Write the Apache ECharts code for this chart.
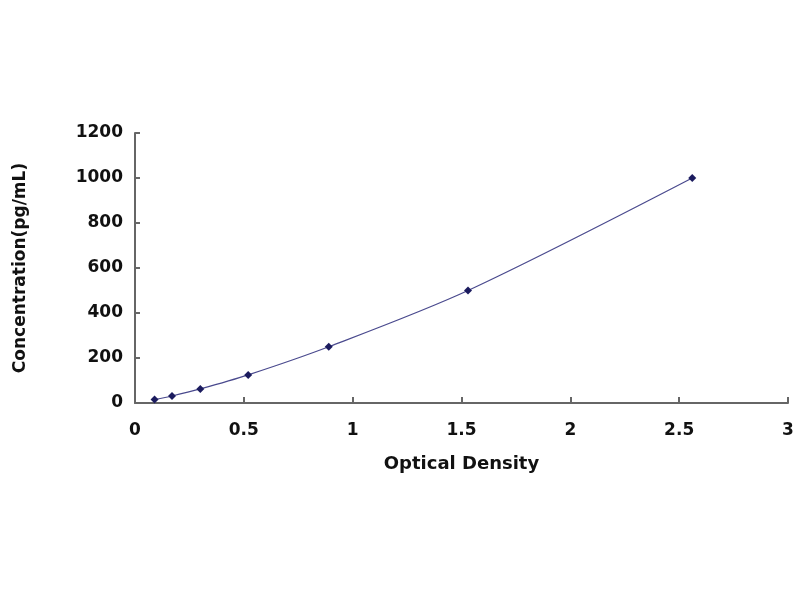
<!DOCTYPE html>
<html>
<head>
<meta charset="utf-8">
<script src="https://cdn.jsdelivr.net/npm/echarts@6/dist/echarts.min.js"></script>
<style>html,body{margin:0;padding:0;background:#fff;}#c{width:800px;height:600px;}</style>
</head>
<body>
<div id="c"></div>
<script>
var opticalDensity = [0.09, 0.17, 0.30, 0.52, 0.89, 1.53, 2.56];
var concentration = [15.6, 31.25, 62.5, 125, 250, 500, 1000];
var xTitle = 'Optical Density';
var yTitle = 'Concentration(pg/mL)';

var pts = opticalDensity.map(function (x, i) { return [x, concentration[i]]; });
var font = 'DejaVu Sans';
var chart = echarts.init(document.getElementById('c'));
chart.setOption({
  animation: false,
  backgroundColor: '#fff',
  grid: { left: 135, right: 12, top: 133, bottom: 197 },
  xAxis: {
    type: 'value', min: 0, max: 3, interval: 0.5,
    name: xTitle, nameLocation: 'middle', nameGap: 52,
    nameTextStyle: { fontFamily: font, fontWeight: 'bold', fontSize: 18, color: '#111' },
    axisLine: { show: true, lineStyle: { color: '#666', width: 2 } },
    axisTick: { show: true, inside: true, length: 6, lineStyle: { color: '#666', width: 2 } },
    axisLabel: { fontFamily: font, fontWeight: 'bold', fontSize: 17, color: '#111', margin: 19,
      formatter: function (v) { return String(v); } },
    splitLine: { show: false }
  },
  yAxis: {
    type: 'value', min: 0, max: 1200, interval: 200,
    name: yTitle, nameLocation: 'middle', nameGap: 106, nameRotate: 90,
    nameTextStyle: { fontFamily: font, fontWeight: 'bold', fontSize: 17, color: '#111' },
    axisLine: { show: true, lineStyle: { color: '#666', width: 2 } },
    axisTick: { show: true, inside: true, length: 5, lineStyle: { color: '#666', width: 2 } },
    axisLabel: { fontFamily: font, fontWeight: 'bold', fontSize: 17, color: '#111', margin: 12,
      formatter: function (v) { return String(v); } },
    splitLine: { show: false }
  },
  series: [{
    type: 'line',
    data: pts,
    smooth: 0.3,
    symbol: 'diamond',
    symbolSize: 8,
    itemStyle: { color: '#1b1b5e' },
    lineStyle: { color: '#4a4a8e', width: 1.2 }
  }]
});
</script>
</body>
</html>
